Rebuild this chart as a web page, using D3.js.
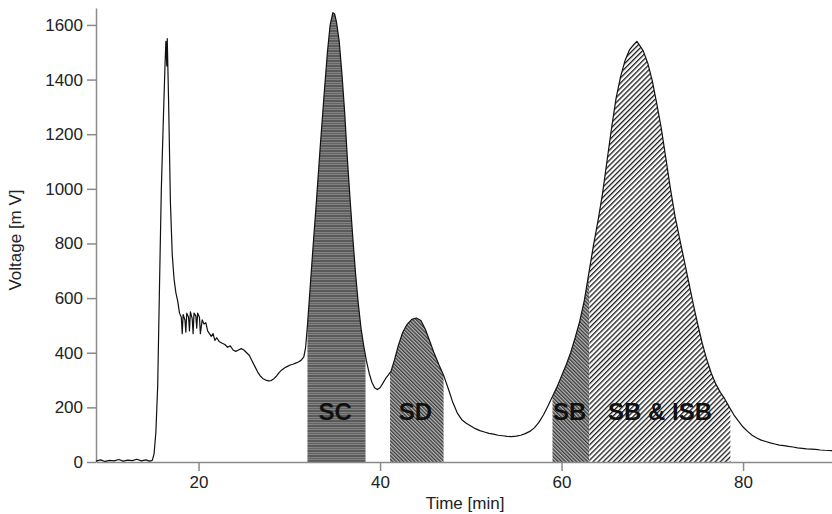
<!DOCTYPE html>
<html>
<head>
<meta charset="utf-8">
<script src="https://cdn.jsdelivr.net/npm/d3@7"></script>
<style>
  body { margin: 0; background: #fff; }
  svg { display: block; font-family: "Liberation Sans", Arial, sans-serif; }
  .axis path, .axis line { stroke: #8a8a8a; stroke-width: 1.5; }
  .axis text { fill: #222; font-size: 17px; }
  .axis-label { fill: #222; font-size: 17px; }
  .peak-label { fill: #111; font-size: 24px; font-weight: bold; }
</style>
</head>
<body>
<div id="chart"></div>
<script>
// chromatogram: time [min] and voltage [mV]
const times = [
  8.7, 9.2, 9.7, 10.2, 10.7, 11.2, 11.7, 12.2, 12.7, 13.2, 13.7, 14.2, 14.6, 14.9,
  15.1, 15.3, 15.5, 15.7, 15.9, 16.1, 16.3, 16.4, 16.5, 16.55, 16.7, 16.9,
  17.1, 17.3, 17.5, 17.7, 17.9, 18.1, 18.2, 18.3, 18.5, 18.6, 18.7, 18.9,
  19.0, 19.1, 19.3, 19.4, 19.5, 19.7, 19.8, 19.9, 20.1, 20.2, 20.4, 20.6, 20.8,
  21.0, 21.2, 21.4, 21.6, 21.8, 22.0, 22.3, 22.6, 22.9, 23.2, 23.5, 23.8,
  24.1, 24.4, 24.7, 25.0, 25.3, 25.6, 25.9, 26.2, 26.5, 26.8, 27.1, 27.4, 27.7,
  28.0, 28.3, 28.6, 28.9, 29.2, 29.5, 29.8, 30.1, 30.4, 30.7, 31.0, 31.3, 31.6, 31.8,
  32.0, 32.3, 32.6, 33.0, 33.4, 33.8, 34.2, 34.5, 34.8, 35.0, 35.2, 35.5, 35.8,
  36.1, 36.4, 36.7, 37.0, 37.3, 37.6, 37.9, 38.2, 38.5, 38.8, 39.1, 39.4, 39.7,
  40.0, 40.3, 40.6, 40.9, 41.2, 41.6, 42.0, 42.5, 43.0, 43.5, 44.0, 44.5, 45.0,
  45.5, 46.0, 46.5, 47.0, 47.5, 48.0, 48.5, 49.0, 49.5, 50.0, 50.5, 51.0, 51.5,
  52.0, 52.5, 53.0, 53.5, 54.0, 54.5, 55.0, 55.5, 56.0, 56.5, 57.0, 57.5, 58.0,
  58.5, 59.0, 59.5, 60.0, 60.5, 61.0, 61.5, 62.0, 62.5, 63.0, 63.5, 64.0, 64.5,
  65.0, 65.5, 66.0, 66.5, 67.0, 67.5, 68.0, 68.3, 68.6, 69.0, 69.5, 70.0, 70.5,
  71.0, 71.5, 72.0, 72.5, 73.0, 73.5, 74.0, 74.5, 75.0, 75.5, 76.0, 76.5, 77.0,
  77.5, 78.0, 78.5, 79.0, 79.5, 80.0, 80.5, 81.0, 81.5, 82.0, 82.5, 83.0, 83.5,
  84.0, 84.5, 85.0, 85.5, 86.0, 86.5, 87.0, 87.5, 88.0, 88.5, 89.0, 89.8
];
const voltage = [
  3, 8, 2, 6, 4, 9, 3, 7, 5, 10, 4, 8, 3, 6,
  30, 110, 280, 650, 1000, 1230, 1450, 1540, 1450, 1550, 1320, 950,
  760, 670, 620, 590, 545, 530, 470, 540, 520, 475, 545, 530,
  480, 550, 525, 470, 545, 535, 490, 545, 530, 470, 520, 505, 510,
  480, 470, 460, 470, 445, 455, 440, 435, 430, 420, 425, 410,
  405, 410, 415, 410, 400, 390, 370, 350, 330, 315, 305, 300, 297,
  298, 305, 315, 328, 338, 345, 350, 355, 358, 362, 366, 372, 385, 420,
  500, 640, 780, 960, 1150, 1330, 1500, 1600, 1645, 1640, 1610, 1540, 1420,
  1280, 1110, 960, 820, 690, 580, 490, 425, 370, 325, 292, 272, 265,
  272, 288, 305, 318, 332, 375, 425, 475, 505, 522, 527, 518, 485,
  440, 395, 355, 318, 270, 220, 180, 155, 142, 132, 122, 115, 110,
  105, 102, 98, 96, 94, 93, 95, 98, 104, 112, 125, 145, 172,
  205, 240, 275, 315, 355, 400, 455, 515, 590, 690, 790, 880, 980,
  1100, 1220, 1330, 1410, 1470, 1510, 1530, 1540, 1525, 1505, 1460, 1395, 1310,
  1220, 1110, 1000, 900, 820, 740, 660, 580, 505, 435, 375, 325, 285,
  255, 230, 200, 172, 150, 128, 112, 98, 88, 80, 75, 70, 66,
  62, 60, 57, 55, 52, 50, 48, 47, 46, 44, 43, 42
];

// shaded fractions
const regionNames = ["SC", "SD", "SB", "SB & ISB"];
const regionStart = [32.0, 41.1, 59.0, 63.06];
const regionEnd   = [38.4, 47.0, 63.06, 78.6];
const regionLabelTime = [35.05, 43.9, 60.9, 70.85];
const labelLevel = 155;

const xTicks = [20, 40, 60, 80];
const yTicks = [0, 200, 400, 600, 800, 1000, 1200, 1400, 1600];

const width = 832, height = 514;
const data = times.map((t, i) => ({ t: t, v: voltage[i] }));

const svg = d3.select("#chart")
  .append("svg")
  .attr("width", width)
  .attr("height", height);

const xScale = d3.scaleLinear().domain([8.7, 89.8]).range([96, 832]);
const yScale = d3.scaleLinear().domain([0, 1662]).range([462, 8]);

// hatch patterns
const defs = svg.append("defs");

const pSC = defs.append("pattern")
  .attr("id", "hatch-sc")
  .attr("patternUnits", "userSpaceOnUse")
  .attr("width", 6).attr("height", 5);
pSC.append("rect").attr("width", 6).attr("height", 5).attr("fill", "#a0a0a0");
pSC.append("rect").attr("y", 0).attr("width", 6).attr("height", 2).attr("fill", "#5a5a5a");
pSC.append("rect").attr("y", 2.5).attr("width", 6).attr("height", 2).attr("fill", "#646464");

const pFine = defs.append("pattern")
  .attr("id", "hatch-fine")
  .attr("patternUnits", "userSpaceOnUse")
  .attr("width", 2.6).attr("height", 2.6)
  .attr("patternTransform", "rotate(-45)");
pFine.append("rect").attr("width", 2.6).attr("height", 2.6).attr("fill", "#b5b5b5");
pFine.append("rect").attr("width", 1.3).attr("height", 2.6).attr("fill", "#3a3a3a");

const pWide = defs.append("pattern")
  .attr("id", "hatch-wide")
  .attr("patternUnits", "userSpaceOnUse")
  .attr("width", 3.6).attr("height", 3.6)
  .attr("patternTransform", "rotate(45)");
pWide.append("rect").attr("width", 3.6).attr("height", 3.6).attr("fill", "#fff");
pWide.append("rect").attr("width", 1.3).attr("height", 3.6).attr("fill", "#1a1a1a");

const fills = ["url(#hatch-sc)", "url(#hatch-fine)", "url(#hatch-fine)", "url(#hatch-wide)"];

const area = d3.area()
  .x(d => xScale(d.t))
  .y0(yScale(0))
  .y1(d => yScale(d.v));

regionNames.forEach((name, i) => {
  const x0 = xScale(regionStart[i]);
  const x1 = xScale(regionEnd[i]);
  defs.append("clipPath")
    .attr("id", "clip-" + i)
    .append("rect")
    .attr("x", x0).attr("y", 0)
    .attr("width", x1 - x0).attr("height", height);

  svg.append("path")
    .datum(data)
    .attr("d", area)
    .attr("fill", fills[i])
    .attr("clip-path", `url(#clip-${i})`);
});

// axes
const bottomAxis = d3.axisBottom(xScale)
  .tickValues(xTicks)
  .tickFormat(d3.format("d"))
  .tickSizeInner(9)
  .tickSizeOuter(0)
  .tickPadding(5);

svg.append("g")
  .attr("class", "axis")
  .attr("transform", `translate(0, ${yScale(0)})`)
  .call(bottomAxis);

const leftAxis = d3.axisLeft(yScale)
  .tickValues(yTicks)
  .tickFormat(d3.format("d"))
  .tickSizeInner(9)
  .tickSizeOuter(0)
  .tickPadding(4);

svg.append("g")
  .attr("class", "axis")
  .attr("transform", `translate(${xScale(8.7)}, 0)`)
  .call(leftAxis);

// trace
const line = d3.line()
  .x(d => xScale(d.t))
  .y(d => yScale(d.v));

svg.append("path")
  .datum(data)
  .attr("d", line)
  .attr("fill", "none")
  .attr("stroke", "#111")
  .attr("stroke-width", 1.2)
  .attr("stroke-linejoin", "round");

// region labels
svg.selectAll(".peak-label")
  .data(regionNames)
  .join("text")
  .attr("class", "peak-label")
  .attr("x", (d, i) => xScale(regionLabelTime[i]))
  .attr("y", yScale(labelLevel))
  .attr("text-anchor", "middle")
  .text(d => d);

// axis titles
svg.append("text")
  .attr("class", "axis-label")
  .attr("x", 465)
  .attr("y", 509)
  .attr("text-anchor", "middle")
  .text("Time [min]");

svg.append("text")
  .attr("class", "axis-label")
  .attr("transform", "translate(21, 240) rotate(-90)")
  .attr("text-anchor", "middle")
  .text("Voltage [m V]");
</script>
</body>
</html>
